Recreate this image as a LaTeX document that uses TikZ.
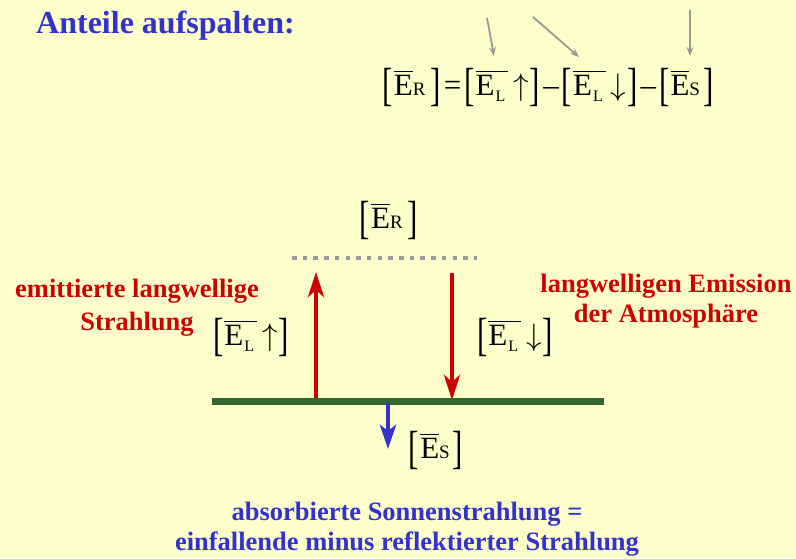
\documentclass[tikz,border=0pt]{standalone}
\usepackage{amsmath}
\usepackage{graphicx}
\usepackage{fontspec}
\setmainfont{Liberation Serif}
\usetikzlibrary{arrows.meta}
\definecolor{bgyel}{HTML}{FFFFCC}
\definecolor{tblue}{HTML}{3333CC}
\definecolor{tred}{HTML}{CC0000}
\definecolor{tgreen}{HTML}{336633}
\definecolor{tgray}{HTML}{999999}
\newcommand\subsz{\fontsize{19}{21}\selectfont}
\newcommand\subszl{\fontsize{16}{18}\selectfont}
\newcommand\lbr{\raisebox{-5pt}{\scalebox{1}[1.5]{[}}}
\newcommand\rbr{\raisebox{-5pt}{\scalebox{1}[1.5]{]}}}
\newcommand\uarr{\scalebox{1.25}{$\uparrow$}}
\newcommand\darr{\scalebox{1.25}{$\downarrow$}}
\newcommand\bR{\lbr\hspace{1pt}$\overline{\text{E}}$\text{\subsz R}\hspace{5pt}\rbr}
\newcommand\bS{\lbr\hspace{1pt}$\overline{\text{E}}$\text{\subsz S}\hspace{3pt}\rbr}
\newcommand\bLu{\lbr\hspace{1pt}$\overline{\text{E\hspace{1pt}\raisebox{-6pt}{\subszl L}\hspace{3pt}}}$\hspace{5pt}\uarr\hspace{1pt}\rbr}
\newcommand\bLd{\lbr\hspace{1pt}$\overline{\text{E\hspace{1pt}\raisebox{-6pt}{\subszl L}\hspace{3pt}}}$\hspace{5pt}\darr\hspace{1pt}\rbr}
\newcommand\opsp{\hspace{3pt}}
\tikzset{
  eqtext/.style={font=\fontsize{31}{34}\selectfont, text=black, inner sep=0pt, anchor=base},
  redtext/.style={font=\fontsize{26.5}{31}\selectfont\bfseries, text=tred, inner sep=0pt, anchor=base},
  bluetext/.style={font=\fontsize{26.5}{31}\selectfont\bfseries, text=tblue, inner sep=0pt, anchor=base},
  grayarrow/.style={draw=tgray, line width=1.8pt, -{Stealth[length=9pt,width=7pt]}},
  redarrow/.style={draw=tred, line width=4.5pt, -{Stealth[length=25pt,width=16pt,inset=7pt]}},
  bluearrow/.style={draw=tblue, line width=4.5pt, -{Stealth[length=24pt,width=16pt,inset=6pt]}},
}
\begin{document}
\begin{tikzpicture}[x=1pt,y=-1pt]
\fill[bgyel] (0,0) rectangle (796,558);
\useasboundingbox (0,0) rectangle (796,558);

\node[font=\fontsize{32}{34}\selectfont\bfseries, text=tblue, anchor=base west, inner sep=0pt] (title) at (36,33) {Anteile aufspalten:};

% gray arrows
\coordinate (ga1) at (487,18); \coordinate (ga1e) at (494,56);
\coordinate (ga2) at (533,17); \coordinate (ga2e) at (579,57);
\coordinate (ga3) at (690,10); \coordinate (ga3e) at (690,56);
\draw[grayarrow] (ga1) -- (ga1e);
\draw[grayarrow] (ga2) -- (ga2e);
\draw[grayarrow] (ga3) -- (ga3e);

% equation
\node[eqtext] (eq) at (548,95) {\bR\opsp=\opsp\bLu\opsp–\opsp\bLd\opsp–\opsp\bS};

% diagram
\node[eqtext] (er) at (389,228) {\bR};
\coordinate (d1) at (292,258); \coordinate (d2) at (477,258);
\draw[tgray, line width=4.5pt, dash pattern=on 4.5pt off 6.2pt] (d1) -- (d2);

\coordinate (g1) at (212,401); \coordinate (g2) at (604,401);
\draw[tgreen, line width=7pt] (g1) -- (g2);

\coordinate (ru0) at (316,398); \coordinate (ru1) at (316,272);
\draw[redarrow] (ru0) -- (ru1);
\coordinate (rd0) at (452,273); \coordinate (rd1) at (452,400);
\draw[redarrow] (rd0) -- (rd1);
\coordinate (b0) at (388,403); \coordinate (b1) at (388,449);
\draw[bluearrow] (b0) -- (b1);

\node[eqtext] (elu) at (251,345) {\bLu};
\node[eqtext] (eld) at (515,345) {\bLd};
\node[eqtext] (es) at (436,458) {\bS};

\node[redtext] (lt1) at (137,297) {emittierte langwellige};
\node[redtext] (lt2) at (137,330) {Strahlung};
\node[redtext] (rt1) at (666,292) {langwelligen Emission};
\node[redtext] (rt2) at (666,322) {der Atmosphäre};
\node[bluetext] (bt1) at (407,520) {absorbierte Sonnenstrahlung =};
\node[bluetext] (bt2) at (407,550) {einfallende minus reflektierter Strahlung};
\end{tikzpicture}
\end{document}
